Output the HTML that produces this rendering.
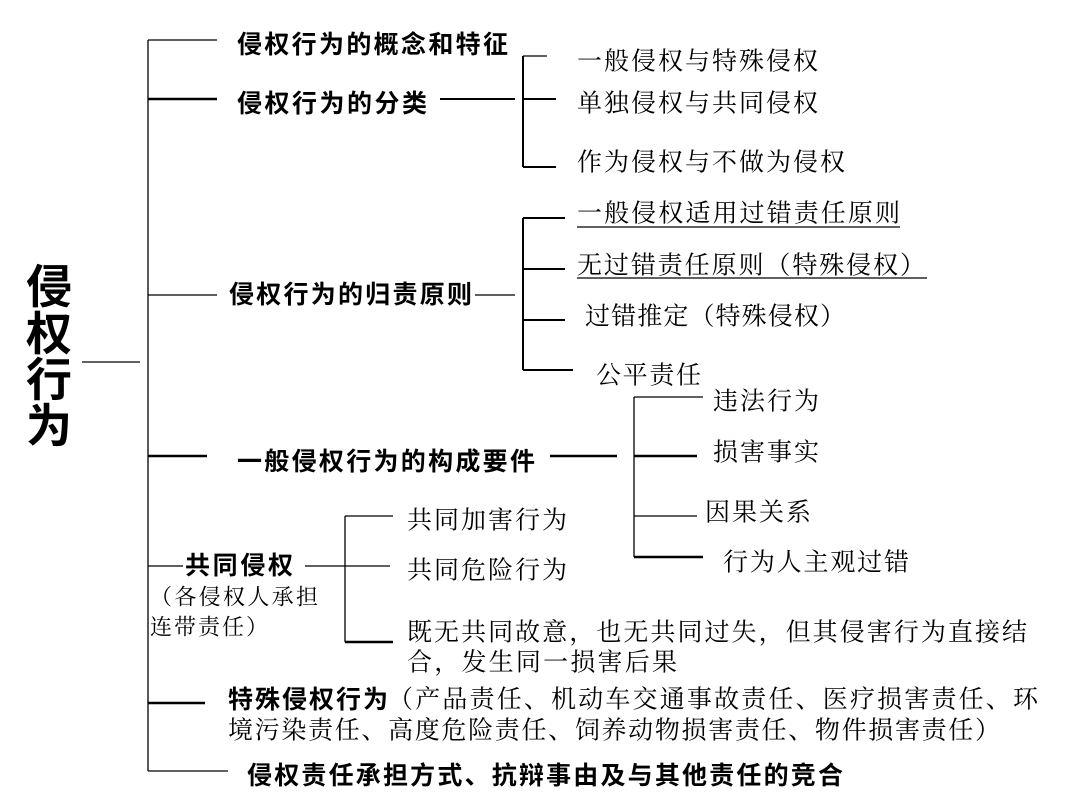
<!DOCTYPE html>
<html><head><meta charset="utf-8"><style>
html,body{margin:0;padding:0;background:#fff;width:1080px;height:810px;overflow:hidden}
svg{display:block}
.r{font-family:"Liberation Serif","Noto Serif CJK SC",serif;font-size:25px;fill:#000}
.b{font-family:"Liberation Sans","Noto Sans CJK SC",sans-serif;font-size:25px;font-weight:bold;fill:#000}
.t{font-family:"Liberation Sans","Noto Sans CJK SC",sans-serif;font-size:46px;font-weight:bold;fill:#000}
</style></head><body>
<svg width="1080" height="810" xmlns="http://www.w3.org/2000/svg">
<g stroke="#000" stroke-width="1.3" fill="none">
<line x1="148" y1="40" x2="148" y2="771"/>
<line x1="82" y1="362" x2="140" y2="362"/>
<line x1="148" y1="40" x2="217" y2="40"/>
<line x1="148" y1="99" x2="217" y2="99" stroke-width="2.5"/>
<line x1="148" y1="295" x2="217" y2="295"/>
<line x1="148" y1="456" x2="207" y2="456" stroke-width="2.5"/>
<line x1="148" y1="566" x2="183" y2="566"/>
<line x1="148" y1="703" x2="205" y2="703" stroke-width="2.5"/>
<line x1="148" y1="771" x2="228" y2="771"/>
<line x1="440" y1="99" x2="515" y2="99" stroke-width="2"/>
<line x1="523" y1="56" x2="523" y2="167" stroke-width="2"/>
<line x1="523" y1="56" x2="547" y2="56"/>
<line x1="523" y1="99" x2="556" y2="99" stroke-width="2"/>
<line x1="523" y1="167" x2="556" y2="167" stroke-width="2"/>
<line x1="475" y1="295" x2="515" y2="295"/>
<line x1="523" y1="218" x2="523" y2="370" stroke-width="2"/>
<line x1="523" y1="218" x2="565" y2="218" stroke-width="2"/>
<line x1="523" y1="269" x2="565" y2="269" stroke-width="2"/>
<line x1="523" y1="320" x2="565" y2="320" stroke-width="2"/>
<line x1="523" y1="370" x2="573" y2="370" stroke-width="2"/>
<line x1="550" y1="456" x2="617" y2="456" stroke-width="2.5"/>
<line x1="634" y1="397" x2="634" y2="557"/>
<line x1="634" y1="397" x2="703" y2="397"/>
<line x1="634" y1="456" x2="697" y2="456" stroke-width="2.5"/>
<line x1="634" y1="516" x2="697" y2="516"/>
<line x1="634" y1="557" x2="703" y2="557" stroke-width="2.5"/>
<line x1="305" y1="566" x2="390" y2="566"/>
<line x1="345" y1="516" x2="345" y2="642"/>
<line x1="345" y1="516" x2="393" y2="516"/>
<line x1="345" y1="642" x2="393" y2="642" stroke-width="2.5"/>
<line x1="577" y1="227" x2="900" y2="227"/>
<line x1="577" y1="278" x2="927" y2="278"/>
</g>
<g dominant-baseline="central">
<text class="t" x="26" y="287">侵</text>
<text class="t" x="26" y="334">权</text>
<text class="t" x="26" y="380">行</text>
<text class="t" x="26" y="426">为</text>
<text class="b" x="237" y="45" textLength="271">侵权行为的概念和特征</text>
<text class="b" x="237" y="104" textLength="190">侵权行为的分类</text>
<text class="b" x="229" y="295" textLength="243">侵权行为的归责原则</text>
<text class="b" x="237" y="462" textLength="298">一般侵权行为的构成要件</text>
<text class="b" x="185" y="566" textLength="108">共同侵权</text>
<text class="b" x="228" y="700" textLength="160">特殊侵权行为</text>
<text class="b" x="247" y="776" textLength="596">侵权责任承担方式、抗辩事由及与其他责任的竞合</text>
<text class="r" x="577" y="62" textLength="241">一般侵权与特殊侵权</text>
<text class="r" x="577" y="104" textLength="241">单独侵权与共同侵权</text>
<text class="r" x="577" y="163" textLength="268">作为侵权与不做为侵权</text>
<text class="r" x="577" y="214" textLength="323">一般侵权适用过错责任原则</text>
<text class="r" x="577" y="266" textLength="348">无过错责任原则（特殊侵权）</text>
<text class="r" x="585" y="317" textLength="260">过错推定（特殊侵权）</text>
<text class="r" x="596" y="376" textLength="105">公平责任</text>
<text class="r" x="713" y="402" textLength="106">违法行为</text>
<text class="r" x="713" y="453" textLength="106">损害事实</text>
<text class="r" x="705" y="513" textLength="106">因果关系</text>
<text class="r" x="723" y="563" textLength="186">行为人主观过错</text>
<text class="r" x="407" y="521" textLength="160">共同加害行为</text>
<text class="r" x="407" y="571" textLength="160">共同危险行为</text>
<text class="r" x="407" y="633" textLength="620">既无共同故意，也无共同过失，但其侵害行为直接结</text>
<text class="r" x="407" y="663" textLength="270">合，发生同一损害后果</text>
<text class="r" x="150" y="597" style="font-size:22px" textLength="168">（各侵权人承担</text>
<text class="r" x="150" y="627" style="font-size:22px" textLength="118">连带责任）</text>
<text class="r" x="388" y="700" textLength="650">（产品责任、机动车交通事故责任、医疗损害责任、环</text>
<text class="r" x="228" y="731" textLength="772">境污染责任、高度危险责任、饲养动物损害责任、物件损害责任）</text>
</g>
</svg>
</body></html>
